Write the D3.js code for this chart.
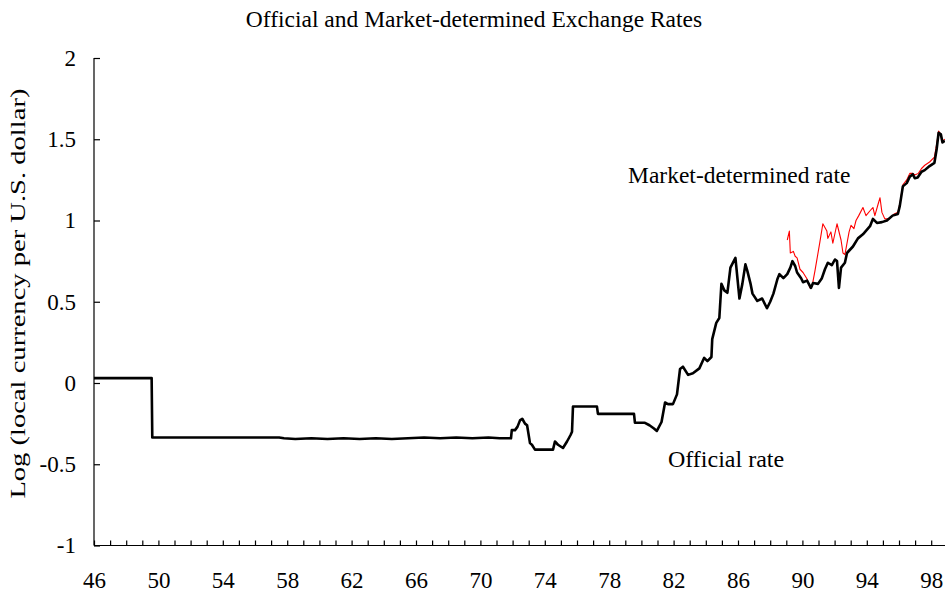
<!DOCTYPE html>
<html><head><meta charset="utf-8">
<script src="https://cdn.jsdelivr.net/npm/d3@7"></script>
<style>
body{margin:0;background:#fff;}
svg{display:block;}
svg text{font-family:"Liberation Serif","Times New Roman",serif;}
</style></head>
<body><svg id="chart" width="945" height="594"></svg>
<script>
const chartTitle = "Official and Market-determined Exchange Rates";
const yAxisLabel = "Log (local currency per U.S. dollar)";
const officialLabel = "Official rate";
const marketLabel = "Market-determined rate";
const yTickValues = [-1, -0.5, 0, 0.5, 1, 1.5, 2];
const yTickLabels = ["-1", "-0.5", "0", "0.5", "1", "1.5", "2"];
const xTickYears = d3.range(46, 99);
const xLabelYears = [46, 50, 54, 58, 62, 66, 70, 74, 78, 82, 86, 90, 94, 98];

// Official rate: [year (19xx), log rate]
const officialRate = [
 [46.0,0.03],[49.58,0.03],[49.62,-0.335],[52.0,-0.335],[55.0,-0.335],[57.5,-0.335],
 [57.8,-0.34],[58.5,-0.345],[59.5,-0.34],[60.5,-0.345],[61.5,-0.34],[62.5,-0.345],
 [63.5,-0.34],[64.5,-0.345],[65.5,-0.34],[66.5,-0.335],[67.5,-0.34],[68.5,-0.335],
 [69.5,-0.34],[70.5,-0.335],[71.2,-0.34],[71.9,-0.34],[71.95,-0.29],[72.15,-0.29],
 [72.3,-0.27],[72.46,-0.23],[72.6,-0.22],[72.77,-0.25],[72.9,-0.26],[73.08,-0.37],
 [73.2,-0.38],[73.39,-0.41],[74.51,-0.41],[74.63,-0.36],[74.82,-0.38],[75.13,-0.40],
 [75.38,-0.36],[75.6,-0.32],[75.69,-0.30],[75.75,-0.145],[77.24,-0.145],[77.3,-0.19],
 [79.54,-0.19],[79.6,-0.245],[80.22,-0.245],[80.5,-0.26],[80.78,-0.28],[80.96,-0.295],
 [81.25,-0.24],[81.47,-0.12],[81.65,-0.13],[81.96,-0.13],[82.21,-0.07],[82.4,0.086],
 [82.58,0.10],[82.9,0.05],[83.2,0.06],[83.6,0.09],[83.9,0.155],[84.1,0.135],
 [84.35,0.16],[84.4,0.27],[84.65,0.37],[84.84,0.40],[84.97,0.61],[85.15,0.57],
 [85.34,0.555],[85.53,0.71],[85.84,0.77],[86.09,0.52],[86.27,0.61],[86.46,0.73],
 [86.58,0.69],[86.77,0.615],[86.9,0.55],[87.2,0.505],[87.5,0.52],[87.8,0.46],
 [88.0,0.50],[88.2,0.55],[88.45,0.64],[88.57,0.67],[88.82,0.645],[89.06,0.67],
 [89.25,0.71],[89.38,0.75],[89.55,0.72],[89.67,0.68],[89.92,0.645],[90.04,0.62],
 [90.29,0.63],[90.53,0.585],[90.66,0.615],[90.97,0.61],[91.21,0.645],[91.4,0.70],
 [91.58,0.74],[91.83,0.725],[92.02,0.76],[92.15,0.75],[92.27,0.585],[92.4,0.71],
 [92.64,0.74],[92.77,0.80],[93.14,0.84],[93.45,0.89],[93.76,0.915],[94.2,0.965],
 [94.38,1.01],[94.63,0.985],[94.94,0.99],[95.25,1.0],[95.6,1.03],[95.93,1.04],
 [96.05,1.09],[96.24,1.21],[96.48,1.23],[96.67,1.27],[96.86,1.285],[96.98,1.26],
 [97.16,1.265],[97.4,1.30],[97.6,1.31],[97.9,1.335],[98.2,1.355],[98.34,1.44],
 [98.46,1.54],[98.6,1.53],[98.7,1.48],[98.85,1.49]
];

// Market-determined rate: [year (19xx), log rate]
const marketRate = [
 [89.06,0.88],[89.19,0.935],[89.25,0.80],[89.44,0.81],[89.55,0.78],[89.67,0.77],
 [89.85,0.70],[90.04,0.68],[90.29,0.64],[90.47,0.585],[90.6,0.595],[90.78,0.69],
 [91.09,0.87],[91.27,0.98],[91.52,0.935],[91.58,0.89],[91.77,0.93],[91.89,0.86],
 [92.15,0.98],[92.4,0.88],[92.52,0.80],[92.64,0.79],[92.9,0.93],[93.02,0.97],
 [93.2,0.95],[93.33,1.0],[93.5,1.03],[93.76,1.08],[93.95,1.03],[94.2,1.06],
 [94.38,1.08],[94.5,1.03],[94.7,1.10],[94.82,1.14],[94.94,1.05],[95.12,1.01],
 [95.4,1.01],[95.7,1.04],[95.93,1.05],[96.05,1.10],[96.24,1.22],[96.48,1.25],
 [96.67,1.29],[96.86,1.29],[96.98,1.28],[97.2,1.29],[97.4,1.32],[97.6,1.34],
 [97.9,1.36],[98.2,1.39],[98.34,1.47],[98.46,1.55],[98.6,1.53],[98.7,1.49],[98.85,1.50]
];

const serif = '"Liberation Serif","Times New Roman",serif';
const svg = d3.select("#chart");
const x = d3.scaleLinear().domain([46, 99]).range([94, 947.3]);
const y = d3.scaleLinear().domain([-1, 2]).range([545.5, 58]);

// Title
svg.append("text").attr("x", 474).attr("y", 27).attr("text-anchor", "middle")
  .style("font-family", serif).style("font-size", "23.5px").text(chartTitle);

// Y axis
const yAxis = d3.axisLeft(y).tickValues(yTickValues).tickSize(-6).tickPadding(18)
  .tickFormat((d, i) => yTickLabels[i]);
const gy = svg.append("g").attr("transform", `translate(${x(46)},0)`).call(yAxis);
gy.attr("font-family", null).attr("font-size", null);
gy.select(".domain").attr("d", `M0,${y(2)}V${y(-1)}`);
gy.selectAll("text").style("font-family", serif).style("font-size", "23px");
gy.selectAll("line, path").attr("stroke", "#000").attr("stroke-width", 1.2);

// X axis
const xAxis = d3.axisBottom(x).tickValues(xTickYears).tickSize(-5).tickPadding(26)
  .tickFormat(d => xLabelYears.includes(d) ? String(d) : "");
const gx = svg.append("g").attr("transform", `translate(0,${y(-1)})`).call(xAxis);
gx.attr("font-family", null).attr("font-size", null);
gx.select(".domain").attr("d", `M${x(46)},0H${x(99)}`);
gx.selectAll("text").style("font-family", serif).style("font-size", "23px");
gx.selectAll("line, path").attr("stroke", "#000").attr("stroke-width", 1.2);

// Y axis label
svg.append("text").attr("transform", `translate(25,${y(0.55)}) rotate(-90)`)
  .attr("text-anchor", "middle").style("font-family", serif).style("font-size", "20px")
  .attr("textLength", 410).attr("lengthAdjust", "spacingAndGlyphs").text(yAxisLabel);

const line = d3.line().x(d => x(d[0])).y(d => y(d[1]));

svg.append("path").datum(marketRate).attr("d", line)
  .attr("fill", "none").attr("stroke", "#ff0000").attr("stroke-width", 1.1)
  .attr("stroke-linejoin", "round");
svg.append("path").datum(officialRate).attr("d", line)
  .attr("fill", "none").attr("stroke", "#000").attr("stroke-width", 2.6)
  .attr("stroke-linejoin", "round");

// Annotations
svg.append("text").attr("x", x(79.17)).attr("y", y(1.23)).style("font-family", serif)
  .style("font-size", "23.5px").text(marketLabel);
svg.append("text").attr("x", x(81.65)).attr("y", y(-0.517)).style("font-family", serif)
  .style("font-size", "24px").text(officialLabel);
</script></body></html>
